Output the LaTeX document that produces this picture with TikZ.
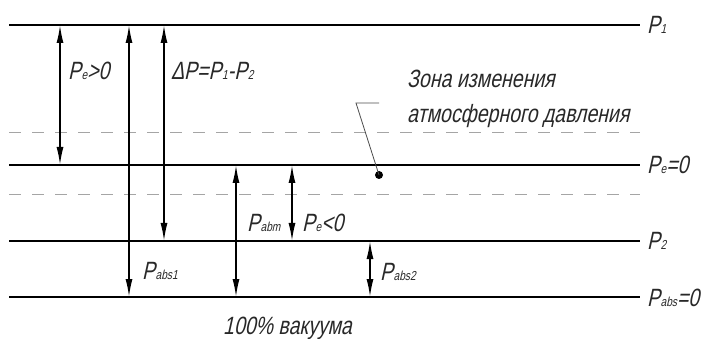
\documentclass[tikz,border=0pt]{standalone}
\usepackage{fontspec}
\setmainfont{Liberation Sans}
\newfontfamily\gostfont[FakeStretch=0.78, FakeSlant=0.22]{Liberation Sans}
\usepackage{tikz}
\usetikzlibrary{arrows.meta, positioning, calc}
\usepackage{xcolor}
\definecolor{dashgray}{RGB}{165,165,165}
\definecolor{inkgray}{RGB}{40,40,40}
\newcommand{\lsub}[1]{{\fontsize{13}{13}\selectfont\kern0.5pt #1}}

\begin{document}
\begin{tikzpicture}[x=1pt, y=-1pt,
  level/.style={line width=2pt},
  zoneline/.style={dashgray, line width=1pt, dash pattern=on 12pt off 11pt},
  dim/.style={line width=1.6pt, {Latex[length=18pt,width=7pt]}-{Latex[length=18pt,width=7pt]}},
  lbl/.style={inkgray, font=\gostfont\fontsize{25}{28}\selectfont, inner sep=0pt, anchor=base west}]
  \useasboundingbox (0,0) rectangle (704,339);

  % pressure levels
  \foreach \n/\y in {p1/25, pe/165, p2/241, pz/297} {
    \coordinate (\n-l) at (9,\y);
    \coordinate (\n-r) at (640,\y);
    \draw[level] (\n-l) -- (\n-r);
  }
  \foreach \n/\y in {za/133, zb/195} {
    \coordinate (\n-l) at (9,\y);
    \coordinate (\n-r) at (640,\y);
    \draw[zoneline] (\n-l) -- (\n-r);
  }
  \node[lbl] (tp1) at ($(p1-r)+(7,9)$) {P\lsub{1}};
  \node[lbl] (tpe) at ($(pe-r)+(7,9)$) {P\lsub{e}=0};
  \node[lbl] (tp2) at ($(p2-r)+(7,9)$) {P\lsub{2}};
  \node[lbl] (tpz) at ($(pz-r)+(7,9)$) {P\lsub{abs}=0};

  % dimension arrows
  \foreach \n/\x/\ya/\yb in {over/60/25/165, abs1/129/25/297, dp/164/25/241,
                             atm/236/165/297, under/292/165/241, abs2/370/241/297} {
    \coordinate (\n-t) at (\x,\ya);
    \coordinate (\n-b) at (\x,\yb);
    \draw[dim] (\n-t) -- (\n-b);
  }
  \node[lbl] (tover) at (68,80) {P\lsub{e}>0};
  \node[lbl] (tdp) at (171,80) {ΔP=P\lsub{1}-P\lsub{2}};
  \node[lbl] (tabs1) at (142,279) {P\lsub{abs1}};
  \node[lbl] (tatm) at (247,232) {P\lsub{abm}};
  \node[lbl] (tunder) at (302,232) {P\lsub{e}<0};
  \node[lbl] (tabs2) at (380,280) {P\lsub{abs2}};
  \node[lbl] (tvac) at (223,334) {100\% вакуума};

  % zone of atmospheric pressure change
  \node[lbl] (zone1) at (407,88) {Зона изменения};
  \node[lbl] (zone2) at (407,123) {атмосферного давления};
  \node[circle, fill, inner sep=0pt, minimum size=8pt] (dot) at (379,175) {};
  \coordinate (kink) at (356,103);
  \draw[black!70, line width=0.8pt] (dot.center) -- (kink) -- ++(23,0);
\end{tikzpicture}
\end{document}
